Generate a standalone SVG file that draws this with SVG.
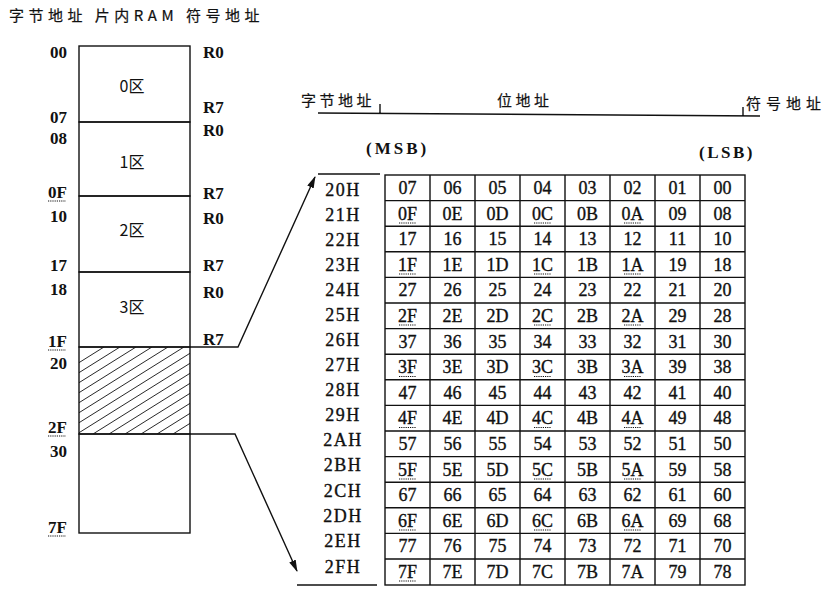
<svg xmlns="http://www.w3.org/2000/svg" width="828" height="591" viewBox="0 0 828 591">
<style>
.t{font-family:"Liberation Serif","Times New Roman",serif;font-size:17px;font-weight:bold;fill:#111}
.n{font-family:"Liberation Serif","Times New Roman",serif;font-size:18px;fill:#111;stroke:#111;stroke-width:0.35}
.c{font-family:"Noto Sans CJK SC","Noto Sans",sans-serif;font-size:15px;fill:#111;letter-spacing:3.5px;stroke:#111;stroke-width:0.2}
.z{font-family:"Noto Sans CJK SC","Noto Sans",sans-serif;font-size:16px;fill:#111}
.m{text-anchor:middle}
.e{text-anchor:end}
.ln{stroke:#111;stroke-width:1.4;fill:none}
.ul{stroke:#111;stroke-width:1.2;stroke-dasharray:1.2 1;fill:none}
.rl{letter-spacing:1.5px}
</style>
<defs>
<marker id="ah" markerUnits="userSpaceOnUse" markerWidth="12" markerHeight="8" refX="11" refY="3.5" orient="auto">
<path d="M0,0 L12,3.5 L0,7 z" fill="#111"/>
</marker>
<clipPath id="hc"><rect x="79" y="347" width="111" height="87"/></clipPath>
</defs>
<rect width="828" height="591" fill="#fff"/>

<g id="header-left">
<text class="c" x="9" y="21" style="letter-spacing:4.5px">字节地址 片内RAM 符号地址</text>
</g>

<g id="memory">
<g id="bank0">
<rect class="ln" x="79" y="46" width="111" height="76"/>
<text class="z m" x="132" y="92">0区</text>
<text class="t e" x="67" y="58">00</text>
<text class="t e" x="67" y="123">07</text>
<text class="t" x="203" y="58">R0</text>
<text class="t" x="203" y="113">R7</text>
</g>
<g id="bank1">
<rect class="ln" x="79" y="122" width="111" height="74"/>
<text class="z m" x="132" y="168">1区</text>
<text class="t e" x="67" y="144">08</text>
<text class="t e" x="67" y="198">0F</text>
<path class="ul" d="M48,201 H66"/>
<text class="t" x="203" y="136">R0</text>
<text class="t" x="203" y="199">R7</text>
</g>
<g id="bank2">
<rect class="ln" x="79" y="196" width="111" height="76"/>
<text class="z m" x="132" y="236">2区</text>
<text class="t e" x="67" y="222">10</text>
<text class="t e" x="67" y="271">17</text>
<text class="t" x="203" y="224">R0</text>
<text class="t" x="203" y="271">R7</text>
</g>
<g id="bank3">
<rect class="ln" x="79" y="272" width="111" height="75"/>
<text class="z m" x="132" y="313">3区</text>
<text class="t e" x="67" y="295">18</text>
<text class="t e" x="67" y="347">1F</text>
<path class="ul" d="M48,350 H66"/>
<text class="t" x="203" y="298">R0</text>
<text class="t" x="203" y="345">R7</text>
</g>
<g id="bitarea">
<rect class="ln" x="79" y="347" width="111" height="87"/>
<g clip-path="url(#hc)" stroke="#111" stroke-width="0.9">
<path d="M-35,434 l139,-87 M-19,434 l139,-87 M-3,434 l139,-87 M13,434 l139,-87 M29,434 l139,-87 M45,434 l139,-87 M61,434 l139,-87 M77,434 l139,-87 M93,434 l139,-87 M109,434 l139,-87 M125,434 l139,-87 M141,434 l139,-87 M157,434 l139,-87 M173,434 l139,-87 M189,434 l139,-87"/>
</g>
<text class="t e" x="67" y="369">20</text>
<text class="t e" x="67" y="433">2F</text>
<path class="ul" d="M48,436 H66"/>
</g>
<g id="general">
<rect class="ln" x="79" y="434" width="111" height="99"/>
<text class="t e" x="67" y="457">30</text>
<text class="t e" x="67" y="533">7F</text>
<path class="ul" d="M48,536 H66"/>
</g>
</g>

<g id="connectors">
<polyline class="ln" points="190,347 238,347 315,177" marker-end="url(#ah)"/>
<path class="ln" d="M318,174 H380"/>
<polyline class="ln" points="190,434 235,434 297,571" marker-end="url(#ah)"/>
<path class="ln" d="M297,585 H377"/>
</g>

<g id="header-right">
<text class="c" x="301" y="106">字节地址</text>
<text class="c" x="497" y="106">位地址</text>
<text class="c" x="746" y="109" style="letter-spacing:5px">符号地址</text>
<path class="ln" d="M318,113 L760,116 M380,104 V113 M743,107 V115.5"/>
<text class="t" x="366" y="154" style="letter-spacing:3px">(MSB)</text>
<text class="t" x="699" y="158" style="letter-spacing:2.5px">(LSB)</text>
</g>

<g id="rowlabels" class="n m rl">
<text x="343" y="196">20H</text>
<text x="343" y="221">21H</text>
<text x="343" y="246">22H</text>
<text x="343" y="271">23H</text>
<text x="343" y="296">24H</text>
<text x="343" y="321">25H</text>
<text x="343" y="346">26H</text>
<text x="343" y="371">27H</text>
<text x="343" y="396">28H</text>
<text x="343" y="421">29H</text>
<text x="343" y="446">2AH</text>
<text x="343" y="471">2BH</text>
<text x="343" y="497">2CH</text>
<text x="343" y="522">2DH</text>
<text x="343" y="547">2EH</text>
<text x="343" y="573">2FH</text>
</g>

<g id="bittable">
<rect class="ln" x="385" y="175" width="360" height="410"/>
<path class="ln" d="M430,175V585M475,175V585M520,175V585M565,175V585M610,175V585M655,175V585M700,175V585
M385,200.6H745M385,226.2H745M385,251.8H745M385,277.4H745M385,303H745M385,328.6H745M385,354.2H745M385,379.8H745M385,405.4H745M385,431H745M385,456.6H745M385,482.2H745M385,507.8H745M385,533.4H745M385,559H745"/>
<g class="n m">
<text y="194"><tspan x="407.5">07</tspan><tspan x="452.5">06</tspan><tspan x="497.5">05</tspan><tspan x="542.5">04</tspan><tspan x="587.5">03</tspan><tspan x="632.5">02</tspan><tspan x="677.5">01</tspan><tspan x="722.5">00</tspan></text>
<text y="219.6"><tspan x="407.5">0F</tspan><tspan x="452.5">0E</tspan><tspan x="497.5">0D</tspan><tspan x="542.5">0C</tspan><tspan x="587.5">0B</tspan><tspan x="632.5">0A</tspan><tspan x="677.5">09</tspan><tspan x="722.5">08</tspan></text>
<text y="245.2"><tspan x="407.5">17</tspan><tspan x="452.5">16</tspan><tspan x="497.5">15</tspan><tspan x="542.5">14</tspan><tspan x="587.5">13</tspan><tspan x="632.5">12</tspan><tspan x="677.5">11</tspan><tspan x="722.5">10</tspan></text>
<text y="270.8"><tspan x="407.5">1F</tspan><tspan x="452.5">1E</tspan><tspan x="497.5">1D</tspan><tspan x="542.5">1C</tspan><tspan x="587.5">1B</tspan><tspan x="632.5">1A</tspan><tspan x="677.5">19</tspan><tspan x="722.5">18</tspan></text>
<text y="296.4"><tspan x="407.5">27</tspan><tspan x="452.5">26</tspan><tspan x="497.5">25</tspan><tspan x="542.5">24</tspan><tspan x="587.5">23</tspan><tspan x="632.5">22</tspan><tspan x="677.5">21</tspan><tspan x="722.5">20</tspan></text>
<text y="322"><tspan x="407.5">2F</tspan><tspan x="452.5">2E</tspan><tspan x="497.5">2D</tspan><tspan x="542.5">2C</tspan><tspan x="587.5">2B</tspan><tspan x="632.5">2A</tspan><tspan x="677.5">29</tspan><tspan x="722.5">28</tspan></text>
<text y="347.6"><tspan x="407.5">37</tspan><tspan x="452.5">36</tspan><tspan x="497.5">35</tspan><tspan x="542.5">34</tspan><tspan x="587.5">33</tspan><tspan x="632.5">32</tspan><tspan x="677.5">31</tspan><tspan x="722.5">30</tspan></text>
<text y="373.2"><tspan x="407.5">3F</tspan><tspan x="452.5">3E</tspan><tspan x="497.5">3D</tspan><tspan x="542.5">3C</tspan><tspan x="587.5">3B</tspan><tspan x="632.5">3A</tspan><tspan x="677.5">39</tspan><tspan x="722.5">38</tspan></text>
<text y="398.8"><tspan x="407.5">47</tspan><tspan x="452.5">46</tspan><tspan x="497.5">45</tspan><tspan x="542.5">44</tspan><tspan x="587.5">43</tspan><tspan x="632.5">42</tspan><tspan x="677.5">41</tspan><tspan x="722.5">40</tspan></text>
<text y="424.4"><tspan x="407.5">4F</tspan><tspan x="452.5">4E</tspan><tspan x="497.5">4D</tspan><tspan x="542.5">4C</tspan><tspan x="587.5">4B</tspan><tspan x="632.5">4A</tspan><tspan x="677.5">49</tspan><tspan x="722.5">48</tspan></text>
<text y="450"><tspan x="407.5">57</tspan><tspan x="452.5">56</tspan><tspan x="497.5">55</tspan><tspan x="542.5">54</tspan><tspan x="587.5">53</tspan><tspan x="632.5">52</tspan><tspan x="677.5">51</tspan><tspan x="722.5">50</tspan></text>
<text y="475.6"><tspan x="407.5">5F</tspan><tspan x="452.5">5E</tspan><tspan x="497.5">5D</tspan><tspan x="542.5">5C</tspan><tspan x="587.5">5B</tspan><tspan x="632.5">5A</tspan><tspan x="677.5">59</tspan><tspan x="722.5">58</tspan></text>
<text y="501.2"><tspan x="407.5">67</tspan><tspan x="452.5">66</tspan><tspan x="497.5">65</tspan><tspan x="542.5">64</tspan><tspan x="587.5">63</tspan><tspan x="632.5">62</tspan><tspan x="677.5">61</tspan><tspan x="722.5">60</tspan></text>
<text y="526.8"><tspan x="407.5">6F</tspan><tspan x="452.5">6E</tspan><tspan x="497.5">6D</tspan><tspan x="542.5">6C</tspan><tspan x="587.5">6B</tspan><tspan x="632.5">6A</tspan><tspan x="677.5">69</tspan><tspan x="722.5">68</tspan></text>
<text y="552.4"><tspan x="407.5">77</tspan><tspan x="452.5">76</tspan><tspan x="497.5">75</tspan><tspan x="542.5">74</tspan><tspan x="587.5">73</tspan><tspan x="632.5">72</tspan><tspan x="677.5">71</tspan><tspan x="722.5">70</tspan></text>
<text y="578"><tspan x="407.5">7F</tspan><tspan x="452.5">7E</tspan><tspan x="497.5">7D</tspan><tspan x="542.5">7C</tspan><tspan x="587.5">7B</tspan><tspan x="632.5">7A</tspan><tspan x="677.5">79</tspan><tspan x="722.5">78</tspan></text>
</g>
<path class="ul" d="M399,223H416M534,223H551M624,223H641
M399,274H416M534,274H551M624,274H641
M399,325H416M534,325H551M624,325H641
M399,376.5H416M534,376.5H551M624,376.5H641
M399,427.5H416M534,427.5H551M624,427.5H641
M399,479H416M534,479H551M624,479H641
M399,530H416M534,530H551M624,530H641
M399,581H416"/>
</g>
</svg>
